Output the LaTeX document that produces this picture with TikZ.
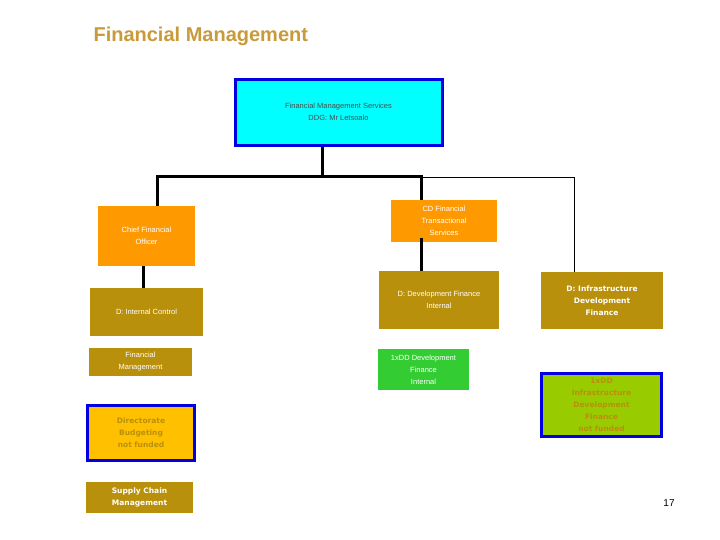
\documentclass[tikz,border=0pt]{standalone}
\usepackage{fontspec}
\setmainfont{Liberation Sans}
\newfontfamily\dvs{DejaVu Sans}
\begin{document}
\begin{tikzpicture}[x=1pt,y=-1pt,
  box/.style={draw=none,inner sep=0pt,align=center,font=\fontsize{7.5}{12}\selectfont,text=white},
  bbox/.style={box,font=\dvs\bfseries\fontsize{7.5}{12}\selectfont},
  thick line/.style={line width=3pt},
  thin line/.style={line width=0.8pt}]
\definecolor{org}{HTML}{FF9900}
\definecolor{gold}{HTML}{B8900C}
\definecolor{cyanb}{HTML}{00FFFF}
\definecolor{blueb}{HTML}{0000E0}
\definecolor{amber}{HTML}{FFC000}
\definecolor{grn}{HTML}{33CC33}
\definecolor{lime}{HTML}{99CC00}
\definecolor{ttl}{HTML}{C89A3A}
\useasboundingbox (0,0) rectangle (720,540);
\node[anchor=west,font=\bfseries\fontsize{20}{24}\selectfont,text=ttl] (title) at (90,36) {Financial Management};
\node[box,fill=cyanb,draw=blueb,line width=3pt,minimum width=207,minimum height=66,text=black!70] (top) at (338.5,112.5) {};
\node[font=\fontsize{7.5}{12}\selectfont,align=center,text=black!70] (toptxt) at (338.5,112) {Financial Management Services\\DDG: Mr Letsoalo};
\node[box,fill=org,minimum width=97,minimum height=60] (cfo) at (146.5,236) {Chief Financial\\Officer};
\node[box,fill=gold,minimum width=113,minimum height=48] (ic) at (146.5,312) {D: Internal Control};
\node[box,fill=org,minimum width=106,minimum height=42] (cd) at (444,221) {CD Financial\\Transactional\\Services};
\node[box,fill=gold,minimum width=120,minimum height=58] (dfi) at (439,300) {D: Development Finance\\Internal};
\node[bbox,fill=gold,minimum width=122,minimum height=57] (idf) at (602,300.5) {D: Infrastructure\\Development\\Finance};
\node[box,fill=gold,minimum width=103,minimum height=28] (fm) at (140.5,362) {Financial\\Management};
\node[bbox,fill=amber,draw=blueb,line width=3pt,minimum width=107,minimum height=55,text=gold] (db) at (141,433) {Directorate\\Budgeting\\not funded};
\node[bbox,fill=gold,minimum width=107,minimum height=31] (sc) at (139.5,497.5) {Supply Chain\\Management};
\node[box,fill=grn,minimum width=91,minimum height=41] (dd) at (423.5,369.5) {1xDD Development\\Finance\\Internal};
\node[bbox,fill=lime,draw=blueb,line width=3pt,minimum width=120,minimum height=63,text=gold] (ddi) at (601.5,405) {1xDD\\Infrastructure\\Development\\Finance\\not funded};
\node[font=\fontsize{10}{12}\selectfont] (pg) at (669,503) {17};
\coordinate (bus) at (322,177);
\coordinate (busL) at (157,177);
\coordinate (busM) at (421,177);
\coordinate (busR) at (574,177);
\draw[thick line] (top.south -| bus) -- (bus);
\draw[thick line,line cap=rect] (busL) -- (busM);
\draw[thick line] (busL) -- (busL |- cfo.north);
\draw[thick line] (busM) -- (busM |- cd.north);
\draw[thin line] (busM) -- (busR) -- (busR |- idf.north);
\draw[thick line] ([xshift=-3.5pt]cfo.south) -- ([xshift=-3.5pt]cfo.south |- ic.north);
\draw[thick line] ([yshift=4pt]cd.south -| busM) -- (busM |- dfi.north);
\end{tikzpicture}
\end{document}
